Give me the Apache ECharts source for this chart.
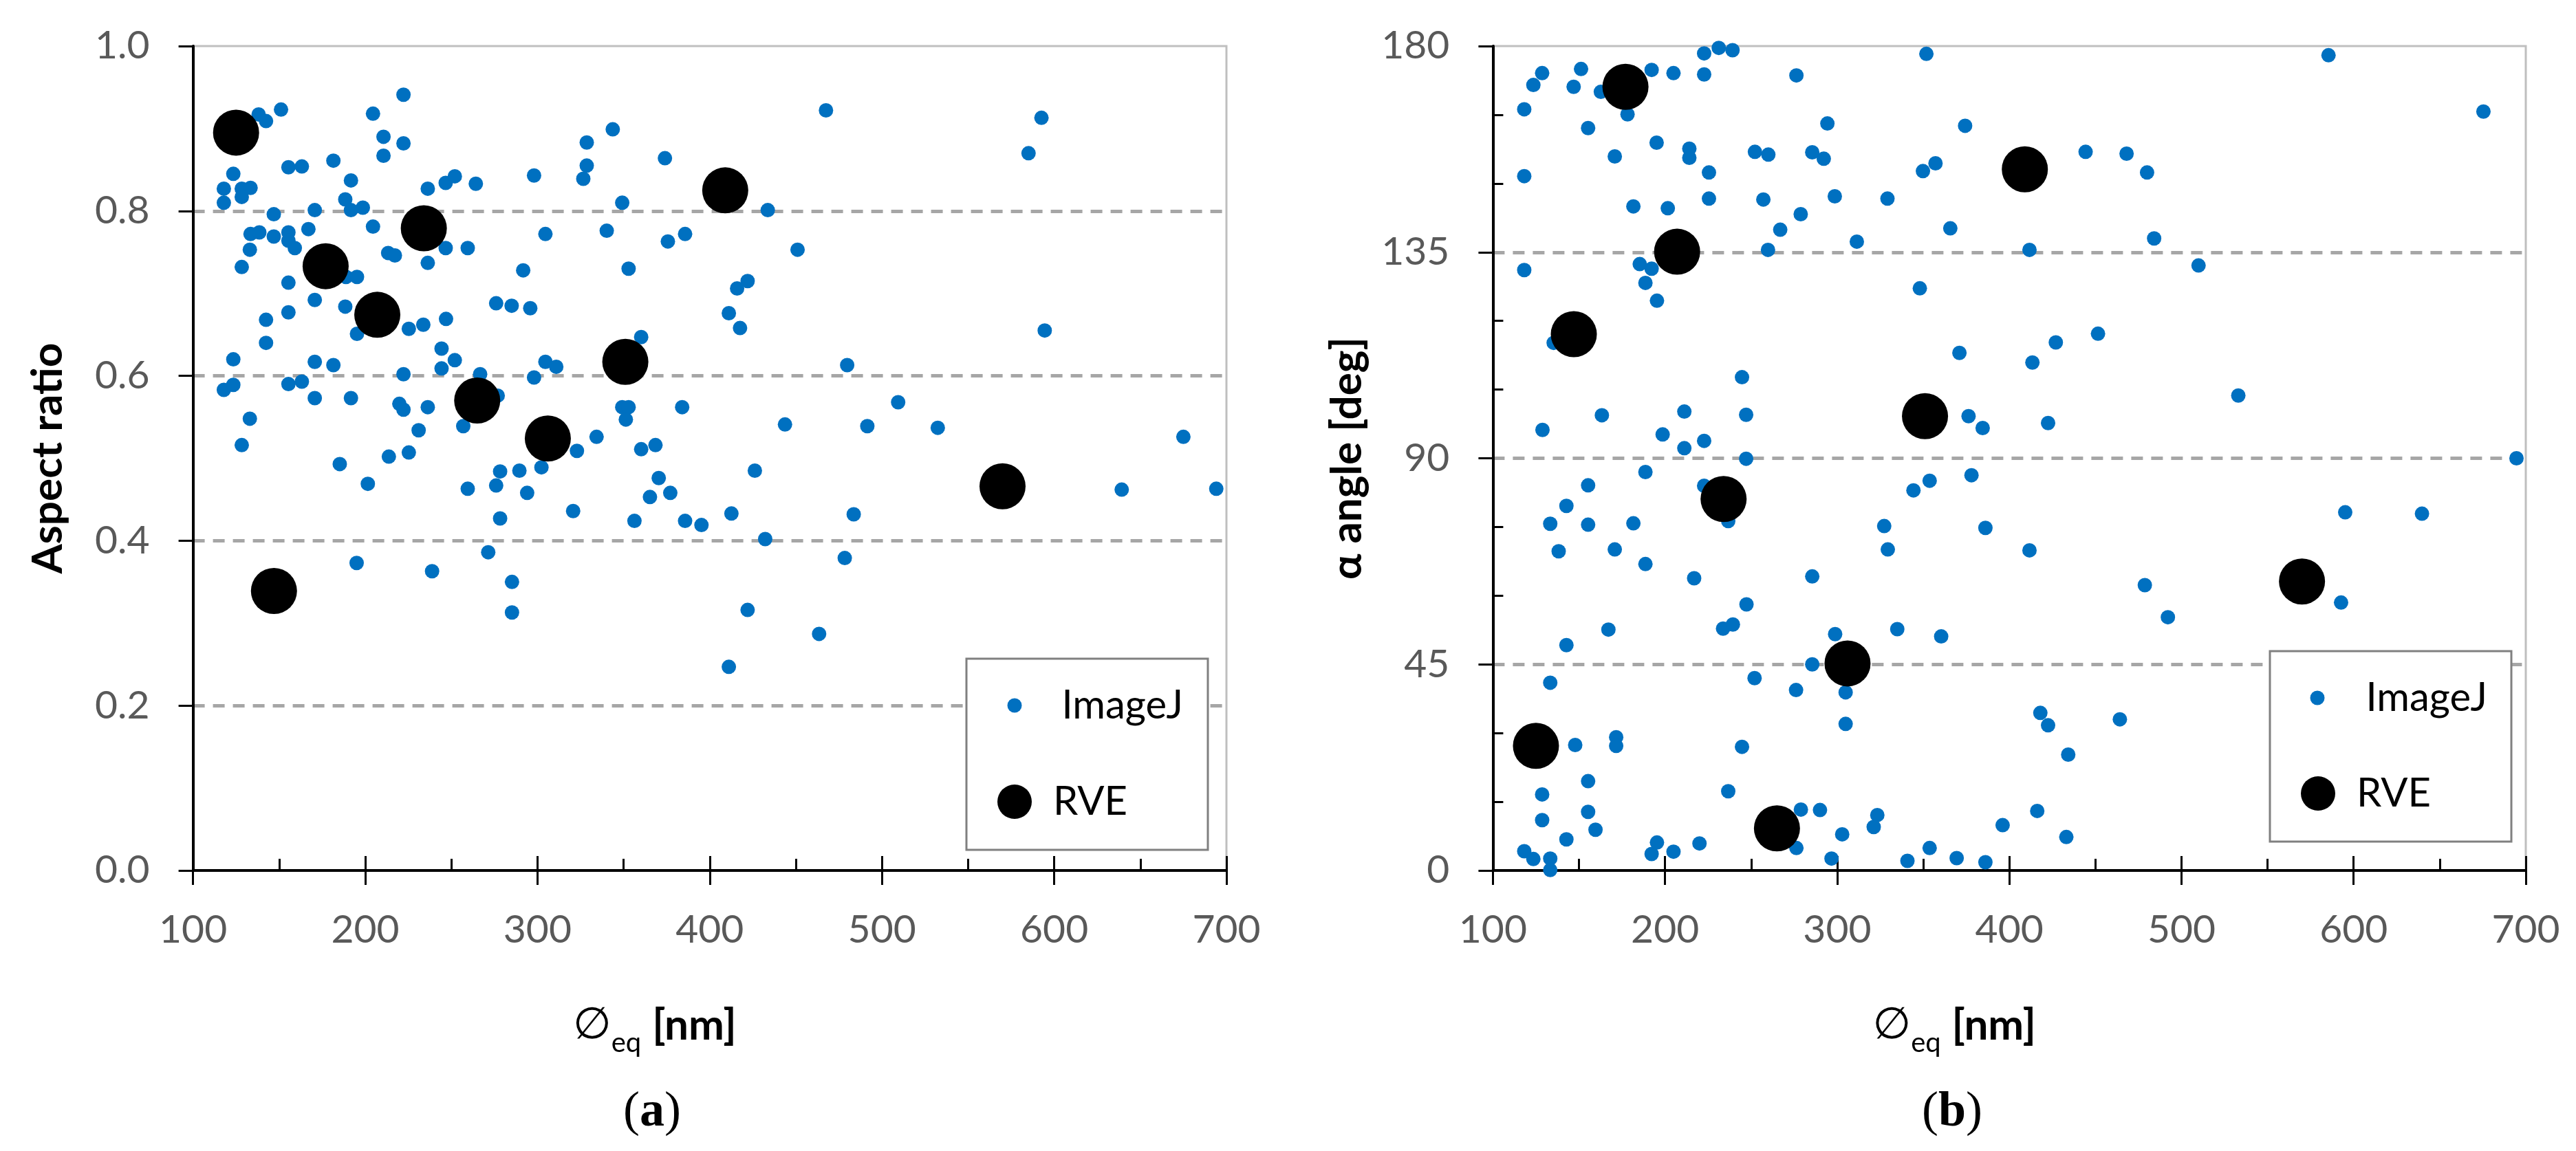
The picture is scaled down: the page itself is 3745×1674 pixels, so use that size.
<!DOCTYPE html>
<html>
<head>
<meta charset="utf-8">
<script src="https://cdn.jsdelivr.net/npm/echarts@6/dist/echarts.min.js"></script>
<style>
  html, body { margin: 0; padding: 0; background: #fff; }
  #chart { width: 3745px; height: 1674px; }
</style>
</head>
<body>
<div id="chart"></div>
<script>
// ImageJ particles: [equivalent diameter (nm), aspect ratio]
var imagejAspect = [
  [138.1,0.917],[142.4,0.909],[151.1,0.923],[204.5,0.918],[222.2,0.941],[210.6,0.890],[222.2,0.882],[210.6,0.867],
  [343.7,0.899],[328.6,0.883],[328.6,0.855],[326.6,0.839],[374.0,0.864],[123.4,0.845],[155.4,0.853],[163.2,0.854],
  [181.5,0.861],[191.7,0.837],[117.9,0.827],[128.3,0.827],[133.4,0.828],[128.3,0.817],[117.9,0.810],[236.3,0.827],
  [246.7,0.834],[252.0,0.842],[264.2,0.833],[298.0,0.843],[349.2,0.810],[188.4,0.814],[191.7,0.801],[198.6,0.804],
  [170.7,0.801],[146.9,0.796],[133.4,0.772],[138.5,0.774],[146.9,0.769],[155.4,0.774],[155.4,0.764],[159.1,0.755],
  [167.0,0.778],[204.5,0.781],[133.0,0.753],[128.3,0.732],[213.3,0.749],[217.2,0.746],[246.7,0.755],[259.5,0.755],
  [236.3,0.737],[304.6,0.772],[340.2,0.776],[375.7,0.763],[385.7,0.772],[291.7,0.728],[352.9,0.730],[155.4,0.713],
  [188.8,0.720],[195.2,0.720],[170.7,0.692],[188.4,0.684],[155.4,0.677],[142.4,0.668],[142.4,0.640],[195.2,0.651],
  [225.3,0.657],[233.7,0.662],[246.9,0.669],[276.0,0.688],[285.0,0.685],[295.8,0.682],[360.2,0.647],[123.4,0.620],
  [117.9,0.583],[123.4,0.589],[170.7,0.617],[181.5,0.613],[155.4,0.590],[163.2,0.593],[170.7,0.573],[191.7,0.573],
  [222.2,0.602],[244.3,0.633],[252.0,0.619],[244.3,0.609],[266.7,0.602],[276.9,0.576],[298.0,0.598],[304.6,0.617],
  [310.9,0.611],[349.2,0.562],[352.9,0.562],[351.3,0.547],[384.0,0.562],[133.0,0.548],[128.3,0.516],[219.8,0.566],
  [222.2,0.559],[236.3,0.562],[231.0,0.534],[256.9,0.539],[213.7,0.502],[225.3,0.507],[185.2,0.493],[322.9,0.509],
  [334.3,0.526],[360.2,0.511],[368.5,0.516],
  [201.5,0.469],[259.5,0.463],[276.0,0.467],[278.3,0.484],[289.5,0.485],[302.3,0.489],[294.0,0.458],[278.3,0.427],
  [320.7,0.436],[370.4,0.476],[365.3,0.453],[377.1,0.458],[356.3,0.424],[385.7,0.424],[395.2,0.419],[195.0,0.373],
  [238.8,0.363],[271.4,0.386],[285.2,0.350],[285.2,0.313],
  [467.5,0.922],[592.6,0.913],[585.1,0.870],[433.7,0.801],[451.0,0.753],[422.0,0.715],[415.9,0.706],[411.1,0.676],
  [417.6,0.658],[594.5,0.655],[479.8,0.613],[509.4,0.568],[443.7,0.541],[491.5,0.539],[532.4,0.537],[675.0,0.526],
  [426.2,0.485],[412.6,0.433],[432.2,0.402],[483.6,0.432],[478.4,0.379],[422.0,0.316],[463.5,0.287],[411.1,0.247],
  [639.2,0.462],[694.1,0.463]
];

// ImageJ particles: [equivalent diameter (nm), alpha angle (deg)]
var imagejAngle = [
  [231.2,179.6],[239.2,179.1],[222.7,178.4],[222.7,173.8],[204.9,174.1],[192.2,174.8],[276.3,173.6],[351.8,178.3],
  [128.6,174.1],[151.2,175.0],[123.5,171.5],[146.9,171.1],[162.7,170.0],[118.2,166.2],[178.2,165.1],[155.3,162.1],
  [294.3,163.1],[374.3,162.6],[195.1,158.9],[214.1,157.6],[214.1,155.6],[170.8,155.9],[252.2,156.9],[260.0,156.3],
  [285.5,156.8],[292.2,155.4],[349.8,152.7],[357.1,154.4],[225.5,152.4],[118.2,151.6],[181.6,145.0],[201.6,144.6],
  [225.5,146.7],[257.1,146.5],[278.8,143.3],[298.6,147.2],[329.2,146.7],[266.9,139.9],[311.4,137.3],[365.7,140.2],
  [259.8,135.5],[118.2,131.1],[185.3,132.4],[192.2,131.4],[188.6,128.3],[195.3,124.4],[348.0,127.1],[371.0,113.0],
  [244.7,107.7],[128.8,96.2],[163.3,99.4],[211.2,100.2],[247.1,99.5],[198.6,95.2],[222.7,93.8],[211.2,92.2],
  [247.1,89.9],[376.3,99.2],[384.5,96.6],[135.3,115.2],
  [188.6,87.0],[155.3,84.1],[142.7,79.6],[133.3,75.7],[155.3,75.5],[181.6,75.8],[138.2,69.7],[170.8,70.1],
  [188.6,66.9],[216.9,63.8],[236.7,76.3],[222.7,84.0],[285.5,64.2],[247.3,58.1],[233.7,52.8],[239.4,53.7],
  [167.1,52.6],[142.7,49.2],[298.8,51.6],[285.5,45.0],[334.9,52.7],[360.4,51.1],[327.3,75.2],[329.4,70.1],
  [344.3,83.0],[353.7,85.1],[378.0,86.3],[386.1,74.8],[133.3,41.0],[252.0,42.0],[276.1,39.4],[304.9,38.9],
  [304.9,32.0],[147.8,27.4],[171.6,29.1],[171.6,27.2],[244.7,27.0],[155.3,19.5],[128.6,16.6],[236.7,17.3],
  [128.6,11.0],[155.3,12.8],[159.6,8.9],[142.7,6.8],[278.9,13.3],[290.0,13.2],[323.3,12.1],[321.2,9.5],
  [302.9,7.9],[276.3,4.9],[296.7,2.6],[118.2,4.2],[123.5,2.5],[133.3,2.6],[133.3,0.1],[192.2,3.6],
  [195.3,6.1],[204.9,4.1],[220.0,5.9],[340.8,2.1],[353.7,4.9],[369.4,2.7],[386.1,1.8],
  [585.4,178.0],[675.4,165.7],[444.3,156.9],[468.1,156.5],[480.0,152.4],[484.1,138.0],[411.7,135.5],[509.9,132.1],
  [451.5,117.2],[427.0,115.3],[413.4,110.9],[533.0,103.7],[422.5,97.7],[694.6,90.0],[411.7,69.9],[478.7,62.3],
  [492.1,55.3],[595.1,78.2],[639.7,77.9],[592.7,58.5],[418.0,34.4],[422.5,31.7],[464.2,33.0],[434.2,25.3],
  [416.2,13.0],[396.1,9.9],[433.1,7.3]
];

// RVE particles
var rveDiameter = [125, 147, 177, 207, 234, 265, 306, 351, 409, 570];
var rveAspect   = [0.895, 0.339, 0.733, 0.674, 0.779, 0.570, 0.524, 0.617, 0.825, 0.466];
var rveAngle    = [27.2, 117.1, 171.1, 135.1, 81.1, 9.2, 45.2, 99.2, 153.1, 63.1];

var FONT = 'Lato, "Open Sans", "DejaVu Sans", sans-serif';
var BLUE = '#0070c0';
var LABEL = { color: '#595959', fontSize: 57, fontFamily: FONT };
var TICK = { color: '#000', width: 3 };
var AXISLINE = { show: true, onZero: false, lineStyle: { color: '#000', width: 4 } };
var DASH = { show: true, showMinLine: false, showMaxLine: false,
  lineStyle: { color: '#a6a6a6', width: 5, type: [17, 12] } };

var xName = '{s|\u2205}{sub|eq} {b|[nm]}';
var xNameStyle = {
  fontSize: 62, fontFamily: FONT, color: '#000', padding: [0, 160, 0, 0],
  rich: {
    s: { fontSize: 64, fontFamily: '"DejaVu Sans", sans-serif', color: '#000', verticalAlign: 'top', lineHeight: 70 },
    sub: { fontSize: 40, fontFamily: FONT, color: '#000', verticalAlign: 'top', lineHeight: 40, padding: [36, 0, 0, 0] },
    b: { fontSize: 62, fontFamily: FONT, fontWeight: 'bold', color: '#000', verticalAlign: 'top', lineHeight: 70 }
  }
};
var yNameStyle = { fontSize: 62, fontFamily: FONT, fontWeight: 'bold', color: '#000' };

function mainX(g) {
  return {
    gridIndex: g, type: 'value', position: 'bottom', min: 100, max: 700, interval: 100,
    axisLine: AXISLINE,
    axisTick: { show: true, length: 21, lineStyle: TICK },
    axisLabel: Object.assign({ margin: 58 }, LABEL),
    splitLine: { show: false },
    name: xName, nameLocation: 'middle', nameGap: 195, nameTextStyle: xNameStyle
  };
}
function innerX(g) {
  return {
    gridIndex: g, type: 'value', position: 'bottom', min: 100, max: 700, interval: 100,
    axisLine: { show: false, onZero: false },
    axisTick: { show: true, inside: true, length: 21, lineStyle: TICK },
    minorTick: { show: true, splitNumber: 2, length: 17, lineStyle: TICK },
    axisLabel: { show: false },
    splitLine: { show: false }
  };
}
function legendItem(name, left, top, size, gap) {
  return {
    data: [name], left: left, top: top, orient: 'vertical', padding: 0, z: 10,
    icon: 'circle', itemWidth: size, itemHeight: size, selectedMode: false,
    itemStyle: { opacity: 1 },
    textStyle: { fontSize: 58, color: '#000', fontFamily: FONT, padding: [0, 0, 0, gap] }
  };
}

var chart = echarts.init(document.getElementById('chart'), null, { renderer: 'canvas' });

var option = {
  animation: false,
  backgroundColor: '#fff',
  grid: [
    { left: 280.6, right: 1962, top: 67, bottom: 408, show: true, borderColor: '#bfbfbf', borderWidth: 3, outerBoundsMode: 'none' },
    { left: 2170.4, right: 73, top: 67, bottom: 408, show: true, borderColor: '#bfbfbf', borderWidth: 3, outerBoundsMode: 'none' }
  ],
  xAxis: [mainX(0), innerX(0), mainX(1), innerX(1)],
  yAxis: [
    {
      gridIndex: 0, type: 'value', position: 'left', min: 0, max: 1, interval: 0.2,
      axisLine: AXISLINE,
      axisTick: { show: true, length: 21, lineStyle: TICK },
      axisLabel: Object.assign({ margin: 63, formatter: function (v) { return v.toFixed(1); } }, LABEL),
      splitLine: DASH,
      name: 'Aspect ratio', nameLocation: 'middle', nameGap: 180, nameTextStyle: yNameStyle
    },
    {
      gridIndex: 1, type: 'value', position: 'left', min: 0, max: 180, interval: 45,
      axisLine: AXISLINE,
      axisTick: { show: true, length: 21, lineStyle: TICK },
      axisLabel: Object.assign({ margin: 63 }, LABEL),
      splitLine: DASH,
      name: '\u03b1 angle [deg]', nameLocation: 'middle', nameGap: 180, nameTextStyle: yNameStyle
    },
    {
      gridIndex: 1, type: 'value', position: 'left', min: 0, max: 180, interval: 45,
      axisLine: { show: false, onZero: false },
      axisTick: { show: false, inside: true },
      minorTick: { show: true, splitNumber: 3, length: 15, lineStyle: TICK },
      axisLabel: { show: false },
      splitLine: { show: false }
    }
  ],
  legend: [
    legendItem('ImageJ', 1464.5, 997, 21, 53),
    legendItem('RVE', 1450, 1137, 50, 26),
    legendItem('ImageJ', 3358.5, 986, 21, 55),
    legendItem('RVE', 3345, 1125, 50, 26)
  ],
  graphic: [
    { type: 'rect', z: 5, shape: { x: 1405, y: 958, width: 351, height: 278 },
      style: { fill: '#fff', stroke: '#808080', lineWidth: 3 } },
    { type: 'rect', z: 5, shape: { x: 3300, y: 947, width: 351, height: 277 },
      style: { fill: '#fff', stroke: '#808080', lineWidth: 3 } },
    { type: 'text', z: 5, x: 948, y: 1618,
      style: { text: '({b|a})', fontSize: 72, fontFamily: '"Liberation Serif", serif', fill: '#000',
        align: 'center', verticalAlign: 'middle',
        rich: { b: { fontSize: 72, fontFamily: '"Liberation Serif", serif', fontWeight: 'bold', fill: '#000' } } } },
    { type: 'text', z: 5, x: 2838, y: 1618,
      style: { text: '({b|b})', fontSize: 72, fontFamily: '"Liberation Serif", serif', fill: '#000',
        align: 'center', verticalAlign: 'middle',
        rich: { b: { fontSize: 72, fontFamily: '"Liberation Serif", serif', fontWeight: 'bold', fill: '#000' } } } }
  ],
  series: [
    { type: 'scatter', name: 'ImageJ', xAxisIndex: 0, yAxisIndex: 0, data: imagejAspect,
      symbol: 'circle', symbolSize: 21, itemStyle: { color: BLUE, opacity: 1 }, z: 2, emphasis: { disabled: true } },
    { type: 'scatter', name: 'RVE', xAxisIndex: 0, yAxisIndex: 0,
      data: rveDiameter.map(function (d, i) { return [d, rveAspect[i]]; }),
      symbol: 'circle', symbolSize: 67, itemStyle: { color: '#000', opacity: 1 }, z: 3, emphasis: { disabled: true } },
    { type: 'scatter', name: 'ImageJ', xAxisIndex: 2, yAxisIndex: 1, data: imagejAngle,
      symbol: 'circle', symbolSize: 21, itemStyle: { color: BLUE, opacity: 1 }, z: 2, emphasis: { disabled: true } },
    { type: 'scatter', name: 'RVE', xAxisIndex: 2, yAxisIndex: 1,
      data: rveDiameter.map(function (d, i) { return [d, rveAngle[i]]; }),
      symbol: 'circle', symbolSize: 67, itemStyle: { color: '#000', opacity: 1 }, z: 3, emphasis: { disabled: true } }
  ]
};

chart.setOption(option);
</script>
</body>
</html>
